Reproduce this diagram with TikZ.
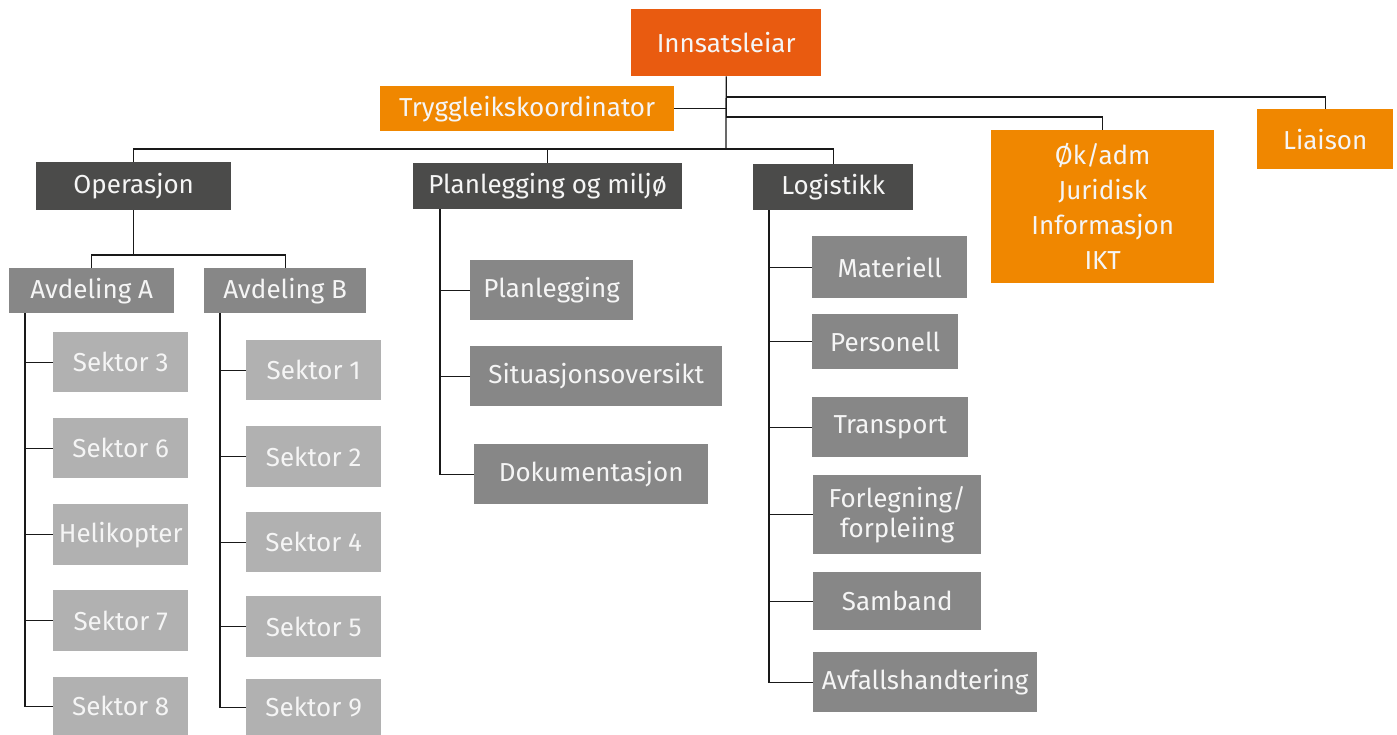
\documentclass[tikz,border=0pt]{standalone}
\usepackage{fontspec}
\setmainfont{Fira Sans}
\definecolor{cRed}{RGB}{233,91,16}
\definecolor{cOr}{RGB}{240,135,0}
\definecolor{cDark}{RGB}{75,75,74}
\definecolor{cMid}{RGB}{135,135,135}
\definecolor{cLight}{RGB}{177,177,177}
\tikzset{
  box/.style={draw=none, inner sep=0pt, anchor=north west, text=white!96!black,
    font=\fontsize{26}{30}\selectfont, align=center},
  conn/.style={draw=black!90, line width=1.3pt},
}
\begin{document}
\begin{tikzpicture}[x=1pt,y=-1pt]
\useasboundingbox (0,0) rectangle (1397,735);
% top level
\node[box, fill=cRed, minimum width=190pt, minimum height=67pt] (inn) at (631,9) {Innsatsleiar};
\node[box, fill=cOr, minimum width=294pt, minimum height=45pt] (tr) at (380,86) {Tryggleikskoordinator};
\node[box, fill=cOr, minimum width=223pt, minimum height=153pt, font=\fontsize{26}{35}\selectfont] (ok) at (991,130) {Øk/adm\\Juridisk\\Informasjon\\IKT};
\node[box, fill=cOr, minimum width=136pt, minimum height=60pt] (li) at (1257,109) {Liaison};
% second level
\node[box, fill=cDark, minimum width=195pt, minimum height=48pt] (op) at (36,162) {Operasjon};
\node[box, fill=cDark, minimum width=269pt, minimum height=46pt] (pl) at (413,163) {Planlegging og miljø};
\node[box, fill=cDark, minimum width=160pt, minimum height=46pt] (lo) at (753,164) {Logistikk};
% Operasjon
\node[box, fill=cMid, minimum width=165pt, minimum height=45pt] (avA) at (9,268) {Avdeling A};
\node[box, fill=cMid, minimum width=162pt, minimum height=45pt] (avB) at (204,268) {Avdeling B};
\node[box, fill=cLight, minimum width=135pt, minimum height=60pt] (s3) at (53,332) {Sektor 3};
\node[box, fill=cLight, minimum width=135pt, minimum height=60pt] (s6) at (53,418) {Sektor 6};
\node[box, fill=cLight, minimum width=135pt, minimum height=61pt] (hel) at (53,504) {Helikopter};
\node[box, fill=cLight, minimum width=135pt, minimum height=61pt] (s7) at (53,590) {Sektor 7};
\node[box, fill=cLight, minimum width=135pt, minimum height=58pt] (s8) at (53,677) {Sektor 8};
\node[box, fill=cLight, minimum width=135pt, minimum height=60pt] (s1) at (246,340) {Sektor 1};
\node[box, fill=cLight, minimum width=135pt, minimum height=61pt] (s2) at (246,426) {Sektor 2};
\node[box, fill=cLight, minimum width=135pt, minimum height=60pt] (s4) at (246,512) {Sektor 4};
\node[box, fill=cLight, minimum width=135pt, minimum height=61pt] (s5) at (246,596) {Sektor 5};
\node[box, fill=cLight, minimum width=135pt, minimum height=56pt] (s9) at (246,679) {Sektor 9};
% Planlegging
\node[box, fill=cMid, minimum width=163pt, minimum height=60pt] (pla) at (470,260) {Planlegging};
\node[box, fill=cMid, minimum width=252pt, minimum height=60pt] (sit) at (470,346) {Situasjonsoversikt};
\node[box, fill=cMid, minimum width=234pt, minimum height=60pt] (dok) at (474,444) {Dokumentasjon};
% Logistikk
\node[box, fill=cMid, minimum width=155pt, minimum height=62pt] (mat) at (812,236) {Materiell};
\node[box, fill=cMid, minimum width=146pt, minimum height=55pt] (per) at (812,314) {Personell};
\node[box, fill=cMid, minimum width=156pt, minimum height=60pt] (tra) at (812,397) {Transport};
\node[box, fill=cMid, minimum width=168pt, minimum height=79pt] (forl) at (813,475) {Forlegning/\\forpleiing};
\node[box, fill=cMid, minimum width=168pt, minimum height=58pt] (sam) at (813,572) {Samband};
\node[box, fill=cMid, minimum width=224pt, minimum height=60pt] (avf) at (813,652) {Avfallshandtering};
% connectors top
\coordinate (jL) at (726,97);
\coordinate (jO) at (726,117);
\coordinate (jM) at (726,149);
\draw[conn] (inn.south) -- (jM);
\draw[conn] (tr.east) -- (tr.east -| inn.south);
\draw[conn] (jL) -| (li.north);
\draw[conn] (jO) -| (ok.north);
\draw[conn] (op.north) |- (jM) -| (lo.north);
\draw[conn] (pl.north) -- (pl.north |- jM);
% Operasjon
\coordinate (jA) at (133,255);
\draw[conn] (op.south) -- (op.south |- jA);
\draw[conn] (avA.north) |- (jA) -| (avB.north);
\coordinate (spA) at ([xshift=16pt]avA.south west);
\draw[conn] (spA) |- (s8.west);
\foreach \n in {s3,s6,hel,s7} \draw[conn] (\n.west) -- (\n.west -| spA);
\coordinate (spB) at ([xshift=16pt]avB.south west);
\draw[conn] (spB) |- (s9.west);
\foreach \n in {s1,s2,s4,s5} \draw[conn] (\n.west) -- (\n.west -| spB);
% Planlegging
\coordinate (spP) at ([xshift=27pt]pl.south west);
\draw[conn] (spP) |- (dok.west);
\foreach \n in {pla,sit} \draw[conn] (\n.west) -- (\n.west -| spP);
% Logistikk
\coordinate (spL) at ([xshift=16pt]lo.south west);
\draw[conn] (spL) |- (avf.west);
\foreach \n in {mat,per,tra,forl,sam} \draw[conn] (\n.west) -- (\n.west -| spL);
\end{tikzpicture}
\end{document}
